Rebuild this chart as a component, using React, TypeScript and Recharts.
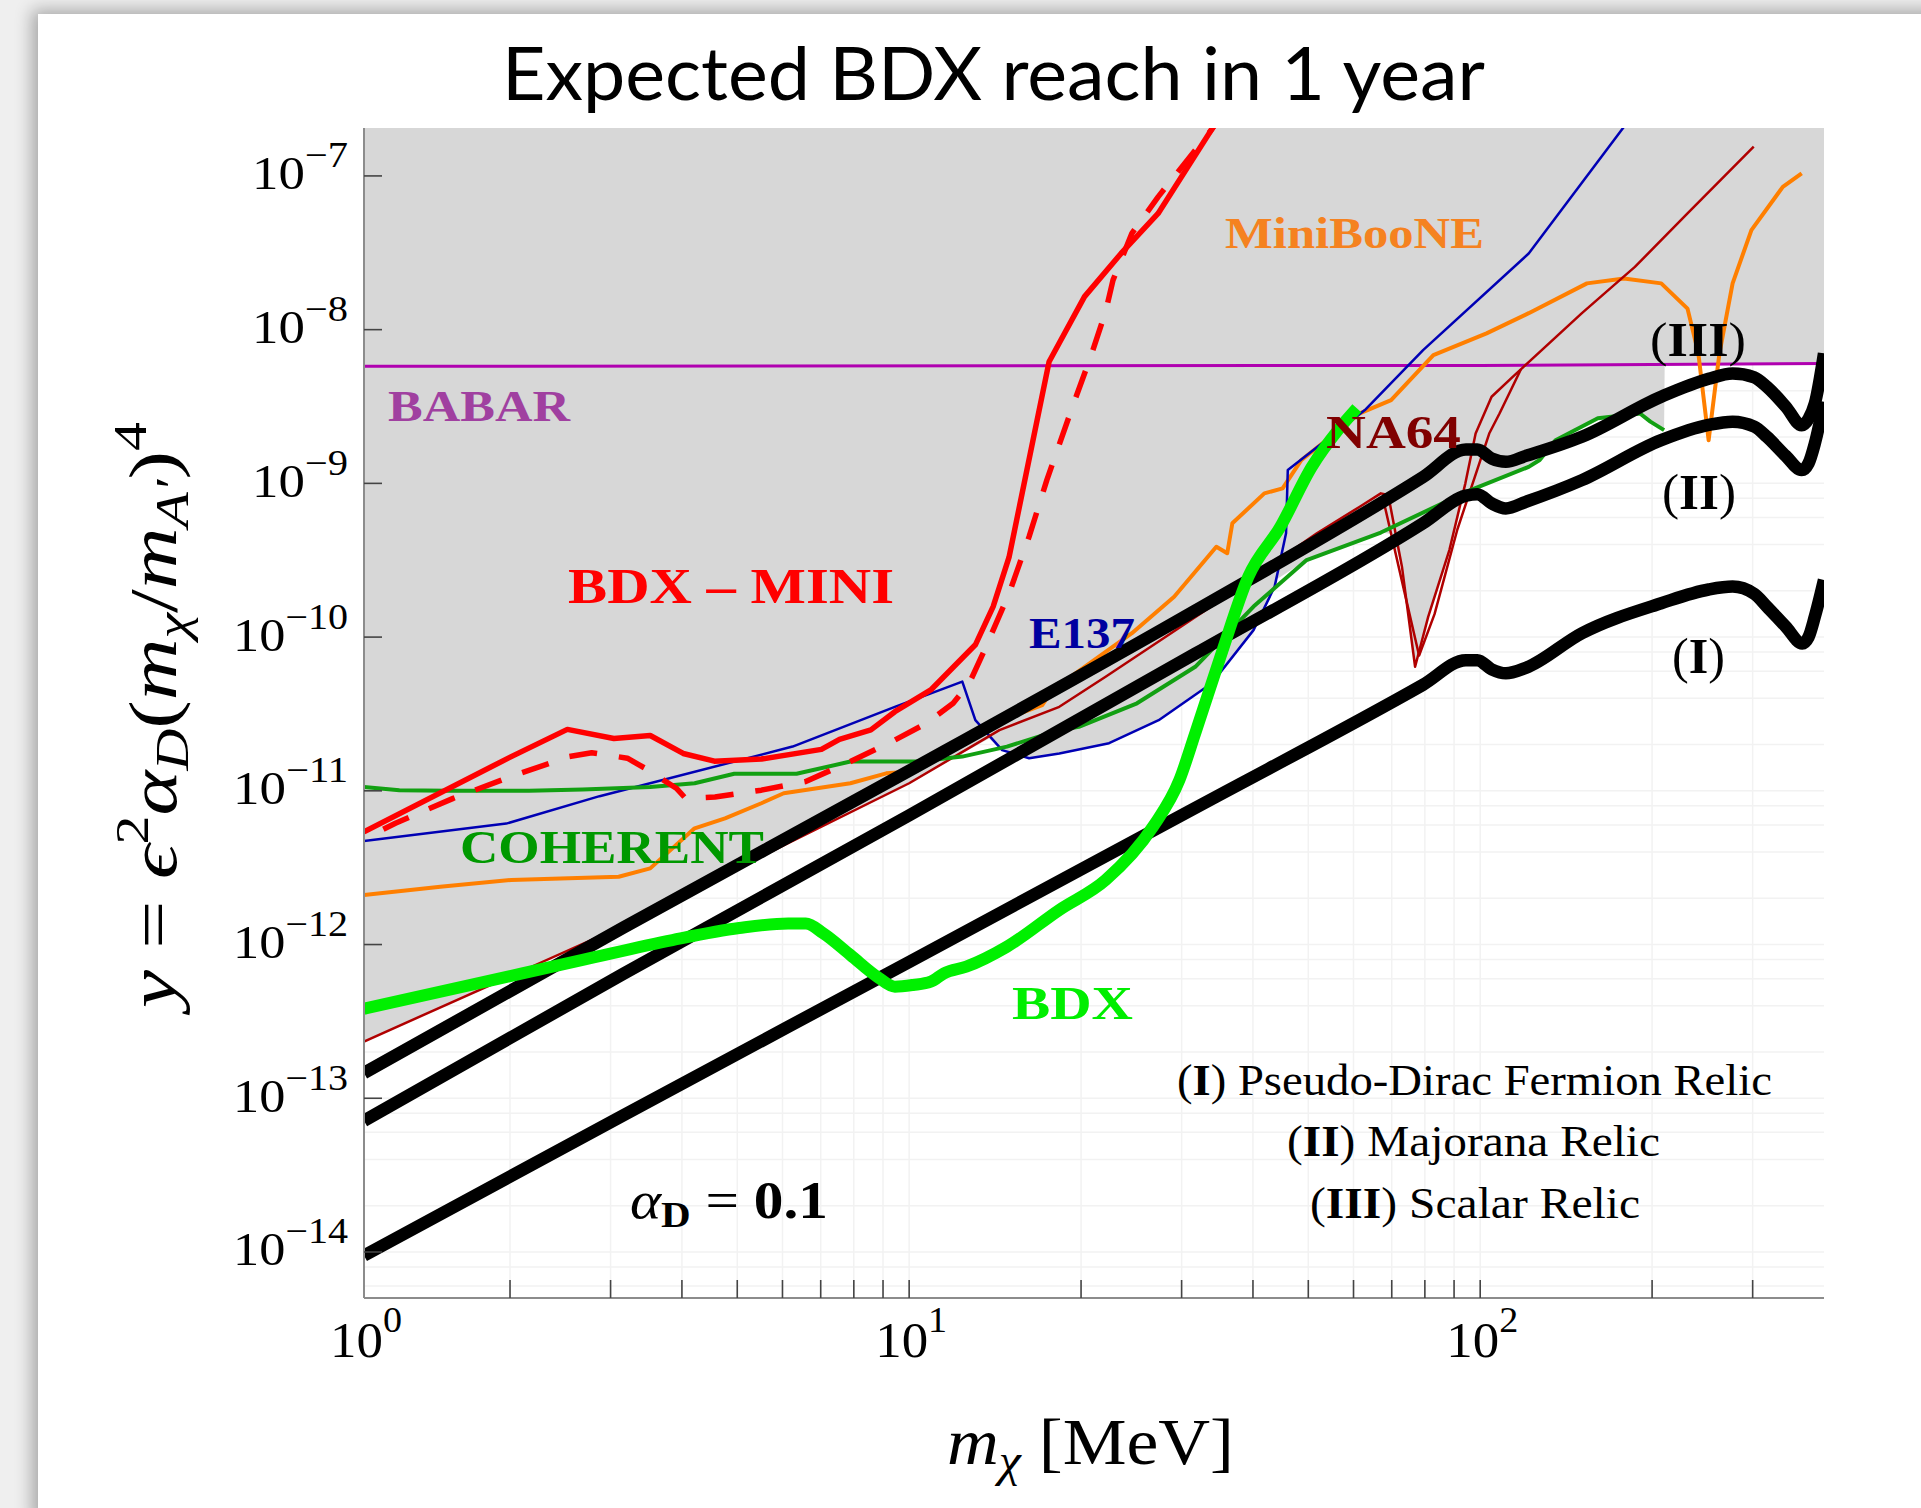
import React from "react";
import { Area, CartesianGrid, ComposedChart, Line, XAxis, YAxis } from "recharts";

type Pt = [number, number];

// axis ranges (mass in MeV, y dimensionless)
const X_MIN = 1.11;
const X_MAX = 400;
const Y_MIN = 5.02e-15;
const Y_MAX = 2.05e-7;

const X_TICKS = [X_MIN, 2, 3, 4, 5, 6, 7, 8, 9, 10, 20, 30, 40, 50, 60, 70, 80, 90, 100, 200, 300];
const X_LABELED = [X_MIN, 10, 100];
const Y_TICKS = [1e-14, 1e-13, 1e-12, 1e-11, 1e-10, 1e-9, 1e-8, 1e-7];
const GRID_X = [2, 3, 4, 5, 6, 7, 8, 9, 10, 20, 30, 40, 50, 60, 70, 80, 90, 100, 200, 300];
const GRID_Y = [
  6e-15, 8e-15, 1e-14, 2e-14, 4e-14, 6e-14, 8e-14, 1e-13, 2e-13, 4e-13, 6e-13, 8e-13,
  1e-12, 2e-12, 4e-12, 6e-12, 8e-12, 1e-11, 2e-11, 4e-11, 6e-11, 8e-11, 1e-10, 2e-10,
  4e-10, 6e-10, 8e-10, 1e-9, 2e-9, 4e-9, 6e-9, 8e-9, 1e-8, 2e-8, 4e-8, 6e-8, 8e-8, 1e-7, 2e-7,
];

// lower edge of the grey excluded region
const EXCLUDED_EDGE: Pt[] = [
  [1.11, 2.34e-13], [2.87, 1.13e-12], [10, 1.12e-11], [13.8, 2.19e-11], [14.55, 1.84e-11],
  [16.22, 1.63e-11], [18.32, 1.75e-11], [22.39, 2.04e-11], [27.35, 2.88e-11], [33.88, 5.01e-11],
  [40.09, 1.11e-10], [44.16, 2.4e-10], [49.66, 3.17e-10], [66.99, 4.79e-10], [69.98, 4.68e-10],
  [72.94, 2.87e-10], [76.91, 6.41e-11], [81.1, 1.36e-10], [88.31, 3.68e-10], [92.26, 7.59e-10],
  [96.16, 9.04e-10], [121.6, 1.28e-9], [127.1, 1.42e-9], [135.5, 1.91e-9], [160.7, 2.65e-9],
  [190.5, 2.85e-9], [198.6, 2.52e-9], [209.9, 2.22e-9], [210.4, 5.86e-9], [400, 6.03e-9],
];

const BABAR: Pt[] = [[1.11, 5.77e-9], [100, 5.85e-9], [400, 6.03e-9]];

const MINIBOONE: Pt[] = [
  [1.11, 2.1e-12], [1.51, 2.38e-12], [2.01, 2.63e-12], [3.1, 2.76e-12], [3.52, 3.13e-12],
  [4.21, 5.7e-12], [4.76, 6.62e-12], [5.51, 8.3e-12], [6.03, 9.64e-12], [7.89, 1.12e-11],
  [9.12, 1.3e-11], [9.98, 1.33e-11], [11.32, 1.75e-11], [14.06, 2.75e-11], [17.1, 3.61e-11],
  [17.82, 4.53e-11], [24.55, 1.06e-10], [29.11, 1.83e-10], [34.51, 3.87e-10], [36.06, 3.51e-10],
  [36.81, 5.5e-10], [41.88, 8.61e-10], [45.08, 9.27e-10], [48.64, 1.42e-9], [61.52, 2.85e-9],
  [69.82, 3.48e-9], [82.79, 6.82e-9], [102.6, 9.46e-9], [121.6, 1.28e-8], [153.8, 2.0e-8],
  [178.6, 2.15e-8], [207.5, 2.0e-8], [230.7, 1.37e-8], [241.0, 7.01e-9], [251.2, 1.91e-9],
  [262.4, 7.01e-9], [276.7, 2.0e-8], [298.5, 4.44e-8], [338.8, 8.49e-8], [365.6, 1.04e-7],
];

const E137: Pt[] = [
  [1.11, 4.71e-12], [1.97, 6.12e-12], [2.87, 9.23e-12], [6.25, 1.94e-11], [9.44, 3.52e-11],
  [12.39, 5.13e-11], [13.06, 2.88e-11], [14.55, 1.84e-11], [16.22, 1.63e-11], [18.32, 1.75e-11],
  [22.39, 2.04e-11], [27.35, 2.88e-11], [33.88, 5.01e-11], [40.09, 1.11e-10], [43.65, 2.13e-10],
  [45.71, 4.73e-10], [46.03, 1.22e-9], [62.81, 3.0e-9], [79.43, 7.36e-9], [121.6, 3.13e-8],
  [178.6, 2.09e-7],
];

const NA64: Pt[] = [
  [1.11, 2.34e-13], [2.87, 1.13e-12], [10, 1.12e-11], [14.39, 2.48e-11], [18.32, 3.52e-11],
  [22.08, 5.52e-11], [33.81, 1.58e-10], [51.76, 4.73e-10], [61.52, 7.05e-10], [66.99, 8.61e-10],
  [69.02, 8.39e-10], [72.94, 2.87e-10], [76.91, 6.41e-11], [81.1, 1.36e-10], [88.31, 3.68e-10],
  [94.19, 1.0e-9], [98.17, 2.11e-9], [104.7, 3.66e-9], [114.0, 4.93e-9], [119.1, 5.73e-9],
  [150.7, 1.28e-8], [186.6, 2.56e-8], [230.7, 5.7e-8], [301.3, 1.55e-7],
];

const NA64_INNER: Pt[] = [
  [67.6, 7.94e-10], [74.13, 1.78e-10], [78.16, 7.59e-11], [83.18, 1.41e-10], [91.2, 5.01e-10],
  [103.7, 2.11e-9], [108.1, 2.85e-9], [117.8, 5.5e-9],
];

const COHERENT: Pt[] = [
  [1.11, 1.06e-11], [1.28, 1.01e-11], [1.56, 1.0e-11], [2.16, 1.0e-11], [2.68, 1.02e-11],
  [3.52, 1.06e-11], [4.21, 1.12e-11], [4.94, 1.29e-11], [6.35, 1.29e-11], [7.89, 1.55e-11],
  [10.35, 1.55e-11], [12.39, 1.67e-11], [14.83, 1.94e-11], [18.32, 2.48e-11], [19.82, 2.61e-11],
  [25.06, 3.71e-11], [31.7, 6.41e-11], [40.09, 1.58e-10], [49.66, 3.17e-10], [66.99, 4.79e-10],
  [96.16, 9.04e-10], [121.6, 1.28e-9], [127.1, 1.42e-9], [135.5, 1.91e-9], [160.7, 2.65e-9],
  [190.5, 2.85e-9], [198.6, 2.52e-9], [209.9, 2.22e-9],
];

const BDX_MINI: Pt[] = [
  [1.11, 5.41e-12], [2.01, 1.67e-11], [2.52, 2.51e-11], [3.04, 2.19e-11], [3.52, 2.29e-11],
  [4.02, 1.75e-11], [4.56, 1.56e-11], [5.51, 1.61e-11], [7.02, 1.86e-11], [7.55, 2.16e-11],
  [8.57, 2.49e-11], [9.44, 3.27e-11], [10.91, 4.53e-11], [13.06, 8.91e-11], [14.03, 1.58e-10],
  [14.96, 3.31e-10], [17.58, 6.18e-9], [20.28, 1.64e-8], [23.5, 3.13e-8], [27.29, 5.7e-8],
  [33.81, 1.99e-7], [35.5, 2.6e-7],
];

const BDX_MINI_DASHED: Pt[] = [
  [1.2, 5.62e-12], [1.26, 6.15e-12], [1.59, 8.93e-12], [2.01, 1.24e-11], [2.54, 1.67e-11],
  [2.78, 1.77e-11], [3.21, 1.63e-11], [3.45, 1.4e-11], [3.91, 1.04e-11], [4.06, 8.93e-12],
  [4.57, 9.12e-12], [5.51, 1.01e-11], [6.59, 1.15e-11], [7.89, 1.55e-11], [9.44, 2.14e-11],
  [10.72, 2.75e-11], [11.94, 3.71e-11], [12.74, 5.0e-11], [13.55, 8.24e-11], [14.96, 1.92e-10],
  [16.22, 4.5e-10], [17.42, 1.05e-9], [19.41, 3.31e-9], [20.89, 7.01e-9], [22.08, 1.31e-8],
  [22.75, 2.1e-8], [24.55, 4.23e-8], [27.29, 7.31e-8], [33.81, 1.99e-7], [35.5, 2.6e-7],
];

const BDX: Pt[] = [
  [1.11, 3.82e-13], [1.87, 5.89e-13], [2.68, 7.94e-13], [3.85, 1.07e-12], [5.04, 1.28e-12],
  [6.14, 1.37e-12], [6.59, 1.37e-12], [7.08, 1.18e-12], [7.89, 8.55e-13], [8.79, 6.18e-13],
  [9.44, 5.32e-13], [10.16, 5.46e-13], [10.91, 5.73e-13], [11.51, 6.5e-13], [12.59, 7.18e-13],
  [14.83, 9.68e-13], [18.32, 1.68e-12], [22.08, 2.63e-12], [26.73, 5.85e-12], [29.72, 1.17e-11],
  [31.7, 2.37e-11], [35.24, 7.83e-11], [39.26, 2.47e-10], [44.67, 5.22e-10], [50.7, 1.28e-9],
  [56.36, 2.22e-9], [60.81, 3.08e-9],
];

// thermal relic targets
const RELIC_I: Pt[] = [
  [1.11, 9.48e-15], [3.16, 7.76e-14], [10, 7.71e-13], [31.62, 7.71e-12], [79.43, 4.9e-11],
  [94.41, 7.08e-11], [98.86, 7.08e-11], [104.7, 6.17e-11], [110.9, 5.81e-11], [120.2, 6.31e-11],
  [150.7, 1.06e-10], [207.5, 1.66e-10], [251.2, 2.04e-10], [276.7, 2.13e-10], [302.0, 1.91e-10],
  [317.7, 1.58e-10], [342.8, 1.17e-10], [366.4, 9.1e-11], [375.8, 1.0e-10], [385.5, 1.36e-10],
  [400, 2.35e-10],
];

const RELIC_II: Pt[] = [
  [1.11, 7.14e-14], [3.16, 6.46e-13], [10, 6.92e-12], [31.62, 7.76e-11], [79.43, 5.5e-10],
  [94.41, 8.32e-10], [98.86, 8.51e-10], [104.7, 7.41e-10], [110.9, 6.87e-10], [120.2, 7.59e-10],
  [150.7, 1.05e-9], [207.5, 1.91e-9], [251.2, 2.4e-9], [276.7, 2.52e-9], [302.0, 2.34e-9],
  [317.7, 2.01e-9], [342.8, 1.51e-9], [365.6, 1.22e-9], [375.8, 1.35e-9], [385.5, 1.82e-9],
  [400, 3.39e-9],
];

const RELIC_III: Pt[] = [
  [1.11, 1.46e-13], [3.16, 1.29e-12], [10, 1.35e-11], [31.62, 1.48e-10], [79.43, 1.1e-9],
  [94.41, 1.66e-9], [98.86, 1.66e-9], [104.7, 1.45e-9], [110.9, 1.38e-9], [120.2, 1.51e-9],
  [150.7, 2.01e-9], [207.5, 3.66e-9], [251.2, 4.79e-9], [276.7, 5.19e-9], [302.0, 4.9e-9],
  [317.7, 4.25e-9], [342.8, 3.16e-9], [365.6, 2.39e-9], [375.8, 2.63e-9], [385.5, 3.31e-9],
  [400, 7.01e-9],
];

const SERIF = "'Liberation Serif', 'Times New Roman', serif";

const rows = (pts: Pt[]) => pts.map(([x, y]) => ({ x, y }));
const band = EXCLUDED_EDGE.map(([x, y]) => ({ x, band: [y, Y_MAX] }));

function XTick(props: any) {
  const { x, y, payload } = props;
  const v = payload.value as number;
  const exp = Math.round(Math.log10(v));
  return (
    <g>
      {v !== X_MIN && <line x1={x} x2={x} y1={y} y2={y - 18} stroke="#444" strokeWidth={1.6} />}
      {X_LABELED.includes(v) && (
        <text
          x={x + 2}
          y={y + 59}
          textAnchor="middle"
          fontFamily={SERIF}
          fontSize={50}
          fill="#000"
          textLength={72}
          lengthAdjust="spacingAndGlyphs"
        >
          10
          <tspan dy={-25} fontSize={36}>
            {exp}
          </tspan>
        </text>
      )}
    </g>
  );
}

function YTick(props: any) {
  const { x, y, payload } = props;
  const exp = Math.round(Math.log10(payload.value));
  const digits = String(Math.abs(exp)).length;
  return (
    <g>
      <line x1={x} x2={x + 18} y1={y} y2={y} stroke="#444" strokeWidth={1.6} />
      <text
        x={x - 16}
        y={y + 13.5}
        textAnchor="end"
        fontFamily={SERIF}
        fontSize={47}
        fill="#000"
        textLength={digits > 1 ? 115 : 96}
        lengthAdjust="spacingAndGlyphs"
      >
        10
        <tspan dy={-22} fontSize={36}>
          {"\u2212" + Math.abs(exp)}
        </tspan>
      </text>
    </g>
  );
}

function Label(p: { x: number; y: number; w: number; size: number; color: string; text: string }) {
  return (
    <text
      x={p.x}
      y={p.y}
      fontFamily={SERIF}
      fontWeight="bold"
      fontSize={p.size}
      fill={p.color}
      textLength={p.w}
      lengthAdjust="spacingAndGlyphs"
    >
      {p.text}
    </text>
  );
}

function Roman(p: { x: number; y: number; w: number; size: number; n: string }) {
  return (
    <text x={p.x} y={p.y} fontFamily={SERIF} fontSize={p.size} textLength={p.w} lengthAdjust="spacingAndGlyphs">
      (<tspan fontWeight="bold">{p.n}</tspan>)
    </text>
  );
}

export default function App() {
  const line = (data: Pt[], color: string, width: number, type: "linear" | "monotone" = "linear", dash?: string) => (
    <Line
      data={rows(data)}
      dataKey="y"
      type={type}
      stroke={color}
      strokeWidth={width}
      strokeDasharray={dash}
      strokeLinejoin="round"
      dot={false}
      activeDot={false}
      isAnimationActive={false}
    />
  );

  return (
    <div style={{ position: "absolute", left: 0, top: 0, width: 1921, height: 1508, overflow: "hidden", background: "#efefef" }}>
      <div
        style={{
          position: "absolute",
          left: 38,
          top: 14,
          width: 1921,
          height: 1508,
          background: "#fff",
          boxShadow: "-4px -2px 16px 2px rgba(0,0,0,0.3)",
        }}
      />
      <div style={{ position: "absolute", left: 0, top: 0 }}>
        <ComposedChart width={1921} height={1508} margin={{ top: 128, right: 97, bottom: 150, left: 214 }}>
          <CartesianGrid stroke="#f2f2f2" strokeWidth={1.5} horizontalValues={GRID_Y} verticalValues={GRID_X} />
          <XAxis
            dataKey="x"
            type="number"
            scale="log"
            domain={[X_MIN, X_MAX]}
            allowDataOverflow
            ticks={X_TICKS}
            interval={0}
            tick={XTick}
            tickSize={0}
            tickMargin={0}
            tickLine={false}
            axisLine={{ stroke: "#8c8c8c", strokeWidth: 2 }}
            height={60}
          />
          <XAxis
            xAxisId="top"
            orientation="top"
            dataKey="x"
            type="number"
            scale="log"
            domain={[X_MIN, X_MAX]}
            allowDataOverflow
            tick={false}
            tickLine={false}
            axisLine={{ stroke: "#8c8c8c", strokeWidth: 2 }}
            height={0}
          />
          <YAxis
            type="number"
            scale="log"
            domain={[Y_MIN, Y_MAX]}
            allowDataOverflow
            ticks={Y_TICKS}
            interval={0}
            tick={YTick}
            tickSize={0}
            tickMargin={0}
            tickLine={false}
            axisLine={{ stroke: "#8c8c8c", strokeWidth: 2 }}
            width={150}
          />
          <YAxis
            yAxisId="right"
            orientation="right"
            type="number"
            scale="log"
            domain={[Y_MIN, Y_MAX]}
            allowDataOverflow
            tick={false}
            tickLine={false}
            axisLine={{ stroke: "#8c8c8c", strokeWidth: 2 }}
            width={0}
          />
          <Area
            data={band}
            dataKey="band"
            type="linear"
            stroke="none"
            fill="#d7d7d7"
            fillOpacity={1}
            isAnimationActive={false}
            activeDot={false}
          />
          {line(BABAR, "#b000b0", 3)}
          {line(MINIBOONE, "#ff7f00", 4)}
          {line(E137, "#0000b4", 2.5)}
          {line(NA64, "#b00000", 2.5)}
          {line(NA64_INNER, "#b00000", 2.5)}
          {line(COHERENT, "#12a012", 4)}
          {line(RELIC_I, "#000", 12.5, "monotone")}
          {line(RELIC_II, "#000", 12.5, "monotone")}
          {line(RELIC_III, "#000", 12.5, "monotone")}
          {line(BDX_MINI_DASHED, "#ff0000", 5.5, "linear", "28 22")}
          {line(BDX_MINI, "#ff0000", 5.5)}
          {line(BDX, "#00f000", 12, "monotone")}
        </ComposedChart>
      </div>
      <svg width={1921} height={1508} style={{ position: "absolute", left: 0, top: 0, pointerEvents: "none" }}>
        <text x={993.5} y={100} textAnchor="middle" fontFamily="Lato" fontSize={74} textLength={983} lengthAdjust="spacingAndGlyphs">
          Expected BDX reach in 1 year
        </text>

        <text
          transform="translate(176,715) rotate(-90)"
          textAnchor="middle"
          fontFamily={SERIF}
          fontSize={68}
          textLength={586}
          lengthAdjust="spacingAndGlyphs"
        >
          <tspan fontStyle="italic">y</tspan>
          <tspan> = </tspan>
          <tspan fontStyle="italic">ϵ</tspan>
          <tspan dy={-28} fontSize={46}>2</tspan>
          <tspan dy={28} fontStyle="italic">α</tspan>
          <tspan dy={12} fontSize={46} fontStyle="italic">D</tspan>
          <tspan dy={-12}>(</tspan>
          <tspan fontStyle="italic">m</tspan>
          <tspan dy={12} fontSize={46} fontStyle="italic">χ</tspan>
          <tspan dy={-12}>/</tspan>
          <tspan fontStyle="italic">m</tspan>
          <tspan dy={12} fontSize={46} fontStyle="italic">A′</tspan>
          <tspan dy={-12}>)</tspan>
          <tspan dy={-30} fontSize={46}>4</tspan>
        </text>

        <text x={1090.5} y={1464} textAnchor="middle" fontFamily={SERIF} fontSize={66} textLength={287} lengthAdjust="spacingAndGlyphs">
          <tspan fontStyle="italic">m</tspan>
          <tspan dy={12} fontSize={46} fontStyle="italic">χ</tspan>
          <tspan dy={-12}>{"  [MeV]"}</tspan>
        </text>

        <Label x={388} y={421} w={182} size={44} color="#a040a0" text="BABAR" />
        <Label x={568} y={603} w={326} size={50} color="#ff0000" text={"BDX \u2013 MINI"} />
        <Label x={1225} y={248} w={259} size={45} color="#f58220" text="MiniBooNE" />
        <Label x={1326} y={448} w={135} size={46} color="#800000" text="NA64" />
        <Label x={1029} y={648} w={106} size={44} color="#0000a0" text="E137" />
        <Label x={460} y={863} w={304} size={46} color="#009900" text="COHERENT" />
        <Label x={1012} y={1019} w={121} size={46} color="#00ee00" text="BDX" />

        <Roman x={1650} y={356} w={96} size={48} n="III" />
        <Roman x={1662} y={509} w={74} size={50} n="II" />
        <Roman x={1672} y={673} w={53} size={50} n="I" />

        <text x={630} y={1218} fontFamily={SERIF} fontSize={52} textLength={198} lengthAdjust="spacingAndGlyphs">
          <tspan fontStyle="italic">α</tspan>
          <tspan dy={9} fontSize={36} fontWeight="bold">D</tspan>
          <tspan dy={-9}> = </tspan>
          <tspan fontWeight="bold">0.1</tspan>
        </text>

        <text x={1474.5} y={1095} textAnchor="middle" fontFamily={SERIF} fontSize={44} textLength={595} lengthAdjust="spacingAndGlyphs">
          (<tspan fontWeight="bold">I</tspan>) Pseudo-Dirac Fermion Relic
        </text>
        <text x={1473.5} y={1156} textAnchor="middle" fontFamily={SERIF} fontSize={44} textLength={373} lengthAdjust="spacingAndGlyphs">
          (<tspan fontWeight="bold">II</tspan>) Majorana Relic
        </text>
        <text x={1475} y={1218} textAnchor="middle" fontFamily={SERIF} fontSize={44} textLength={330} lengthAdjust="spacingAndGlyphs">
          (<tspan fontWeight="bold">III</tspan>) Scalar Relic
        </text>
      </svg>
    </div>
  );
}
